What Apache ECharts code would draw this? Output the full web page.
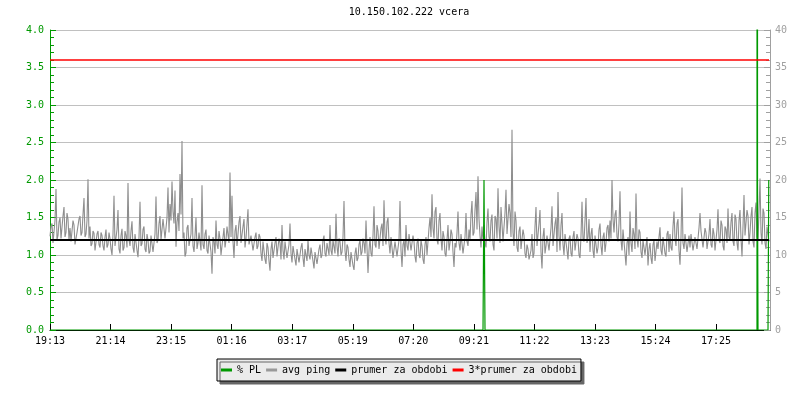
<!DOCTYPE html>
<html>
<head>
<meta charset="utf-8">
<script src="https://cdn.jsdelivr.net/npm/echarts@6/dist/echarts.min.js"></script>
<style>html,body{margin:0;padding:0;background:#fff}#c{width:800px;height:400px}</style>
</head>
<body>
<div id="c"></div>
<script>
const chartTitle = '10.150.102.222 vcera';
const xTickLabels = ['19:13','21:14','23:15','01:16','03:17','05:19','07:20','09:21','11:22','13:23','15:24','17:25'];
const xTickStep = 121.1;      // minutes between labelled ticks
const xSpan = 1440;           // minutes shown
const sampleStep = 2;         // minutes between avg ping samples
const leftTickLabels = ['0.0','0.5','1.0','1.5','2.0','2.5','3.0','3.5','4.0'];
const rightTickLabels = ['0','5','10','15','20','25','30','35','40'];
const legendNames = ['% PL','avg ping','prumer za obdobi','3*prumer za obdobi'];

// avg ping [ms], right axis
const avgPing = [
12.5,13.8,14.2,11.6,11.8,14.6,18.8,12.0,12.6,14.4,15.0,12.2,12.2,15.2,16.4,12.4,13.0,15.6,14.8,12.0,
13.6,11.8,12.0,14.6,14.0,11.4,11.2,13.0,12.8,14.8,15.2,12.6,13.0,15.4,17.6,12.4,12.8,14.6,20.1,12.2,
13.8,11.2,11.5,13.2,12.9,10.6,10.8,12.8,13.2,11.4,11.0,13.0,12.6,11.2,10.6,12.4,13.4,11.0,11.4,13.0,
12.2,10.8,10.0,12.8,17.9,11.2,11.3,13.4,16.0,10.8,10.2,12.6,13.5,10.6,11.0,13.2,12.6,11.0,19.6,12.0,
11.2,13.2,14.5,11.0,10.3,12.8,13.0,10.6,9.7,12.4,17.1,11.2,11.5,13.4,13.8,10.8,10.4,12.8,12.0,10.2,
10.5,12.6,12.4,10.4,10.2,12.8,17.8,11.6,12.0,14.2,15.2,12.0,11.8,14.8,14.6,12.2,12.4,15.0,19.0,13.0,
16.8,14.6,19.8,15.8,14.2,18.6,11.1,14.4,15.6,13.2,20.8,15.4,25.2,12.2,13.0,9.8,10.3,13.6,14.0,11.2,
11.0,12.8,17.6,11.2,10.4,12.6,15.0,10.8,11.6,13.0,12.8,10.6,19.3,11.4,10.8,12.8,13.4,10.6,10.2,12.6,
12.6,10.4,7.5,12.4,11.8,10.2,14.6,11.4,10.8,13.2,12.2,10.0,9.8,12.4,13.6,11.0,12.0,13.8,14.0,11.6,
21.0,12.4,17.9,11.8,9.6,13.2,14.0,11.2,11.0,14.4,15.2,11.6,11.6,13.8,14.8,11.0,12.2,14.2,16.1,11.4,
11.4,12.6,12.8,10.6,10.6,12.4,13.0,10.8,11.2,12.8,12.4,10.2,9.2,11.8,11.6,9.4,8.8,11.6,11.0,9.2,
7.9,10.8,11.8,9.6,9.6,11.6,12.4,9.8,10.0,12.2,11.6,9.4,14.0,10.6,9.4,11.8,12.0,9.6,9.8,11.4,
14.2,10.2,9.0,11.2,11.4,9.4,8.6,10.8,10.8,9.0,9.2,11.0,11.6,9.6,8.4,10.8,10.6,9.2,12.0,10.0,
9.4,11.0,11.2,9.2,8.2,10.4,10.6,8.8,9.0,10.8,11.4,9.6,10.0,12.0,12.6,10.2,9.8,11.6,11.8,10.0,
14.0,10.6,10.0,12.0,12.2,10.2,15.5,11.2,9.8,12.2,11.8,10.0,10.4,12.4,17.2,10.6,9.2,11.4,11.0,9.4,
8.4,10.4,10.2,8.6,8.0,10.2,11.0,9.2,9.6,11.4,12.0,10.0,10.4,12.2,11.6,10.2,14.6,11.0,7.6,10.6,
12.4,10.2,9.8,12.6,16.5,11.4,11.0,14.0,13.2,10.8,10.6,13.6,14.2,11.2,17.3,12.6,11.4,14.4,15.0,11.6,
10.2,12.4,12.2,9.6,9.4,11.8,11.6,9.8,10.0,12.0,17.2,10.6,8.4,11.4,12.0,9.8,14.0,11.2,10.6,12.8,
12.6,10.6,10.4,12.6,11.8,9.8,9.0,11.6,12.2,10.0,9.6,12.0,11.2,9.4,8.8,11.4,12.4,10.0,10.2,13.6,
15.0,12.4,18.1,13.6,12.2,15.8,16.4,12.0,11.4,14.6,15.6,12.2,10.6,13.2,12.4,10.2,9.8,12.0,14.0,10.6,
11.6,13.4,12.8,10.4,8.4,11.6,11.0,13.0,15.8,11.6,10.6,12.8,12.6,10.2,10.0,12.4,15.6,11.8,11.2,13.4,
12.0,15.4,17.2,12.6,13.0,16.0,18.4,13.4,20.5,14.8,12.6,11.0,13.8,12.0,14.0,11.6,11.0,14.4,16.2,12.4,
11.8,14.6,15.4,11.4,10.6,15.2,14.8,12.2,18.9,13.8,11.6,16.4,16.2,11.8,12.0,15.6,18.7,12.8,13.0,16.8,
15.6,12.4,26.7,13.0,11.2,15.8,14.6,11.0,10.4,13.2,13.8,10.8,11.0,13.4,12.6,10.2,9.6,11.4,10.8,9.4,
9.4,10.6,12.8,9.6,10.2,13.8,16.4,11.2,11.0,14.2,16.0,10.4,8.2,12.4,13.6,10.2,11.2,12.6,12.6,10.6,
10.8,13.6,16.5,11.2,11.4,14.2,15.0,10.4,18.4,12.6,10.6,14.0,15.6,11.4,10.0,12.8,13.0,10.6,9.4,12.2,
12.6,10.2,9.8,12.4,13.2,10.6,10.4,12.8,12.2,10.0,9.6,12.6,17.1,12.2,11.8,14.6,17.6,11.6,12.4,14.8,
10.4,12.8,13.6,10.6,9.6,12.6,12.8,10.2,11.0,13.4,14.2,11.2,10.0,12.4,13.0,10.4,11.6,13.6,14.0,11.8,
14.6,12.2,20.0,14.8,13.0,15.4,16.0,12.4,11.8,14.2,18.5,12.0,10.6,13.4,13.2,10.2,8.6,11.6,12.4,10.0,
15.8,11.6,10.4,13.6,12.8,10.8,18.2,12.2,11.0,13.4,13.0,10.4,9.6,12.0,12.2,10.0,10.2,12.4,8.6,10.8,
11.6,9.6,8.8,11.4,12.0,9.2,9.4,11.8,10.8,12.4,13.7,10.6,10.0,12.4,12.6,10.2,9.8,12.8,13.2,10.4,
12.8,11.0,10.6,13.8,15.8,12.2,11.2,14.2,14.8,10.6,8.7,12.4,19.0,11.6,10.8,12.8,12.6,10.4,10.2,12.6,
11.0,12.8,12.6,10.6,10.4,12.4,12.2,10.8,11.0,13.6,15.6,13.2,13.4,11.0,11.2,13.6,13.0,10.8,10.6,12.8,
14.8,11.4,11.0,13.6,12.8,10.6,10.8,13.4,16.1,12.0,11.6,14.6,14.0,11.2,10.6,13.8,13.4,11.6,16.2,12.4,
12.0,14.4,15.6,11.8,11.2,15.4,14.8,11.6,10.6,14.6,16.0,12.2,9.8,13.8,18.0,12.6,12.4,16.0,15.2,11.4,
13.0,15.2,16.4,11.8,11.0,15.6,17.0,12.4,12.0,15.8,20.2,13.0,11.4,16.2,15.6,11.6,10.8,13.8,14.0,11.8
];

// % packet loss, left axis
const plTimes  = [0, 866, 868, 869, 870, 1414, 1415, 1415, 1416, 1436, 1437.5];
const plValues = [0,   0,   2,   1,   0,    0,  100,    2,    0,    0,      2];

const prumer = 12;          // average over period [ms]
const prumer3 = 36;         // 3 * average

const GREEN = '#009900', GRAY = '#8e8e8e', AXGRAY = '#a0a0a0';
const FONT = 'DejaVu Sans Mono';

const pingData = avgPing.map((v, i) => [i * sampleStep, v]);
const plData = plTimes.map((t, i) => [t, plValues[i]]);

const chart = echarts.init(document.getElementById('c'), null, {renderer: 'canvas'});
chart.setOption({
  animation: false,
  backgroundColor: '#ffffff',
  title: {
    text: chartTitle, left: 409, top: 7, textAlign: 'center', padding: 0,
    textStyle: {fontFamily: FONT, fontSize: 10, fontWeight: 'normal', color: '#000'}
  },
  legend: {
    data: legendNames, left: 217, top: 359, orient: 'horizontal',
    padding: [6, 4], itemGap: 5, itemWidth: 11, itemHeight: 3, icon: 'rect',
    backgroundColor: '#ebebeb', borderColor: '#000', borderWidth: 1, borderRadius: 0,
    shadowColor: '#666666', shadowBlur: 0, shadowOffsetX: 3, shadowOffsetY: 3,
    textStyle: {fontFamily: FONT, fontSize: 10, color: '#000'},
    selectedMode: false
  },
  grid: {left: 50, right: 30, top: 30, bottom: 70, containLabel: false},
  xAxis: {
    type: 'value', min: 0, max: xSpan, interval: xTickStep,
    axisLine: {show: true, onZero: false, lineStyle: {color: '#000', width: 1}},
    axisTick: {show: true, inside: true, length: 6, lineStyle: {color: '#000'}},
    splitLine: {show: false},
    axisLabel: {
      fontFamily: FONT, fontSize: 10, color: '#000', margin: 6, showMaxLabel: false,
      formatter: v => {
        const k = Math.round(v / xTickStep);
        return (Math.abs(v - k * xTickStep) < 0.5 && k < xTickLabels.length) ? xTickLabels[k] : '';
      }
    }
  },
  yAxis: [{
    type: 'value', min: 0, max: 4, interval: 0.5, position: 'left',
    axisLine: {show: true, lineStyle: {color: GREEN, width: 1}},
    axisTick: {show: true, inside: true, length: 6, lineStyle: {color: GREEN}},
    minorTick: {show: true, splitNumber: 5, length: 4, lineStyle: {color: GREEN}},
    splitLine: {show: true, lineStyle: {color: '#c0c0c0', width: 1}},
    axisLabel: {fontFamily: FONT, fontSize: 10, color: GREEN, margin: 6,
      formatter: v => leftTickLabels[Math.round(v / 0.5)]}
  }, {
    type: 'value', min: 0, max: 40, interval: 5, position: 'right',
    axisLine: {show: true, lineStyle: {color: AXGRAY, width: 1}},
    axisTick: {show: true, inside: true, length: 6, lineStyle: {color: AXGRAY}},
    minorTick: {show: true, splitNumber: 5, length: 4, lineStyle: {color: AXGRAY}},
    splitLine: {show: false},
    axisLabel: {fontFamily: FONT, fontSize: 10, color: AXGRAY, margin: 5,
      formatter: v => rightTickLabels[Math.round(v / 5)]}
  }],
  series: [{
    name: legendNames[1], type: 'line', yAxisIndex: 1, data: pingData,
    symbol: 'none', color: '#999999', lineStyle: {color: GRAY, width: 1.1}, z: 2
  }, {
    name: legendNames[0], type: 'line', yAxisIndex: 0, data: plData,
    symbol: 'none', color: GREEN, lineStyle: {color: GREEN, width: 1.2}, clip: true, z: 3
  }, {
    name: legendNames[2], type: 'line', yAxisIndex: 1,
    data: [[0, prumer], [xSpan - 2, prumer]],
    symbol: 'none', color: '#000', lineStyle: {color: '#000', width: 2}, z: 4
  }, {
    name: legendNames[3], type: 'line', yAxisIndex: 1,
    data: [[0, prumer3], [xSpan - 2, prumer3]],
    symbol: 'none', color: '#ff0000', lineStyle: {color: '#ff0000', width: 1.3}, z: 5
  }]
});
</script>
</body>
</html>
